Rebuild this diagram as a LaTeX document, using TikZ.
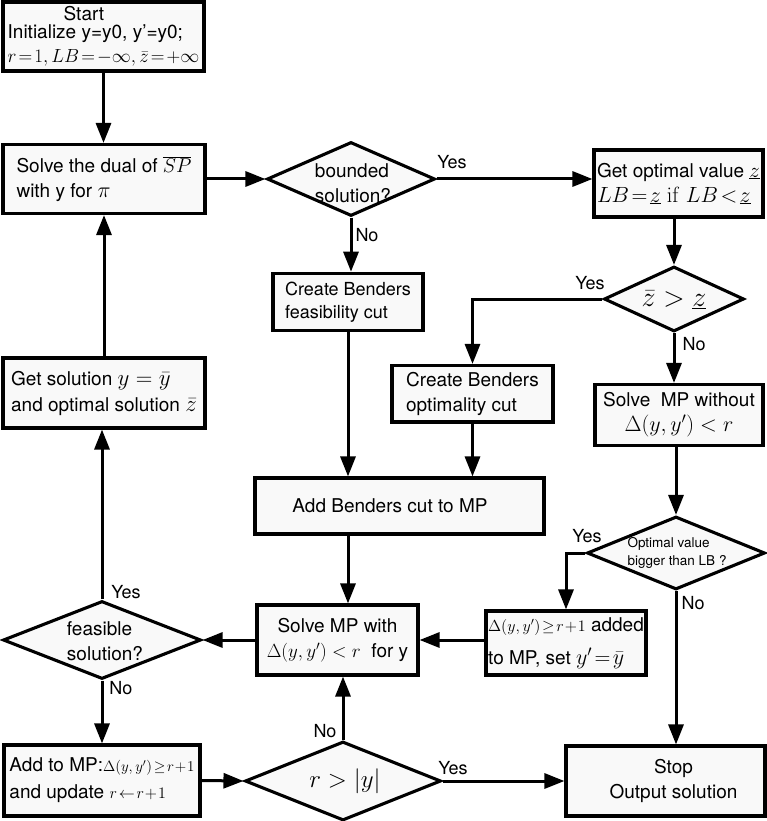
\RequirePackage{fix-cm}
\documentclass[tikz,border=0pt]{standalone}
\usepackage[no-math]{fontspec}
\setmainfont{TeX Gyre Heros}
\usetikzlibrary{arrows.meta,shapes.geometric}
\newcommand{\MS}[2]{{\fontsize{#1}{#1}\selectfont$#2$}}
\definecolor{boxfill}{gray}{0.975}
\begin{document}
\begin{tikzpicture}[x=1pt,y=-1pt,
  box/.style={draw, line width=3.1pt, fill=boxfill, inner sep=0pt, align=left, font=\fontsize{19}{25}\selectfont},
  dia/.style={diamond, draw, line width=3.1pt, fill=boxfill, inner sep=0pt},
  arr/.style={line width=3pt, -{Triangle[length=20pt,width=15pt]}},
  lab/.style={font=\fontsize{18}{20}\selectfont, inner sep=0pt},
  dtext/.style={font=\fontsize{19}{25}\selectfont, align=left, inner sep=0pt}
]
\useasboundingbox[fill=white] (0,0) rectangle (767,821);

% boxes
\node[box, minimum width=201, minimum height=69] (start) at (103.5,36.5)
  {\hspace*{56pt}Start\\[-6.5pt]Initialize y=y0, y'=y0;\\[-1pt]\MS{19}{r\!=\!1, LB\!=\!-\infty, \bar z\!=\!+\infty}};
\node[box, minimum width=202, minimum height=69] (dual) at (104,179)
  {Solve the dual of \MS{20}{\overline{SP}}\\with y for \MS{22}{\pi}};
\node[box, minimum width=169, minimum height=67] (opt) at (678.5,183.5)
  {Get optimal value \MS{21}{\underline{z}}\\\MS{22}{LB\!=\!\underline{z}\ \mathrm{if}\ LB\!<\!\underline{z}}};
\node[box, minimum width=150, minimum height=57, font=\fontsize{18}{23}\selectfont] (feas) at (348,301.75)
  {Create Benders\\feasibility cut};
\node[box, minimum width=161, minimum height=56.5, font=\fontsize{19}{25.5}\selectfont] (ocut) at (472.5,393.75)
  {Create Benders\\optimality cut};
\node[box, minimum width=168, minimum height=61, align=center] (smw) at (679,415)
  {Solve\ \ MP without\\\MS{22}{\Delta(y,y')<r}};
\node[box, minimum width=202, minimum height=70] (gsol) at (104,393)
  {Get solution \MS{23}{y = \bar y}\\[1pt]and optimal solution \MS{23}{\bar z}};
\node[box, minimum width=289, minimum height=56] (addb) at (399.5,506)
  {Add Benders cut to MP\hspace*{19pt}};
\node[box, minimum width=161, minimum height=70, align=center] (smp) at (337.5,640)
  {Solve MP with\\\MS{19}{\Delta(y,y')<r}\ \ for y};
\node[box, minimum width=160, minimum height=64] (dlt) at (566,643)
  {\MS{16}{\Delta(y,y')\!\geq\! r\!+\!1} added\\[8pt]to MP, set \MS{22}{y'\!=\!\bar y}};
\node[box, minimum width=196, minimum height=71] (amp) at (102,780.5)
  {Add to MP:\MS{15}{\Delta(y,y')\!\geq\! r\!+\!1}\\[2pt]and update \MS{16}{r\!\leftarrow\! r\!+\!1}};
\node[box, minimum width=199, minimum height=70, align=center] (stop) at (665.5,781)
  {\hspace*{16pt}Stop\\\hspace*{16pt}Output solution};

% diamonds
\node[dia, minimum width=168, minimum height=74] (bnd) at (351,179) {};
\node[dtext] (bndt) at (353,183) {bounded\\solution?};
\node[dia, minimum width=140, minimum height=65] (zc) at (674,299) {};
\node[dtext] (zct) at (674,300) {\MS{28}{\bar z > \underline{z}}};
\node[dia, minimum width=178, minimum height=73] (ovd) at (676,553) {};
\node[dtext, font=\fontsize{13.5}{18.5}\selectfont] (ovdt) at (677,553) {Optimal value\\bigger than LB ?};
\node[dia, minimum width=198, minimum height=78] (fsd) at (102,640) {};
\node[dtext] (fsdt) at (105,641) {feasible\\solution?};
\node[dia, minimum width=196, minimum height=79] (rd) at (343,781) {};
\node[dtext] (rdt) at (345,781) {\MS{25}{r > |y|}};

% connectors
\draw[arr] (start.south) -- (start.south |- dual.north);
\draw[arr] (dual.east) -- (bnd.west);
\draw[arr] (bnd.east) -- (bnd.east -| opt.west);
\draw[arr] (bnd.south) -- (bnd.south |- feas.north);
\draw[arr] (zc.north |- opt.south) -- (zc.north);
\draw[arr] (zc.west) -| (ocut.north);
\draw[arr] (zc.south) -- (zc.south |- smw.north);
\draw[arr] (ovd.north |- smw.south) -- (ovd.north);
\draw[arr] (ovd.west) -| (dlt.north);
\draw[arr] (ovd.south) -- (ovd.south |- stop.north);
\draw[arr] (feas.south) -- (feas.south |- addb.north);
\draw[arr] (ocut.south) -- (ocut.south |- addb.north);
\draw[arr] (addb.south -| feas.south) -- (smp.north -| feas.south);
\draw[arr] (dlt.west |- smp.east) -- (smp.east);
\draw[arr] (smp.west) -- (fsd.east);
\draw[arr] (fsd.north) -- (fsd.north |- gsol.south);
\draw[arr] (gsol.north) -- (gsol.north |- dual.south);
\draw[arr] (fsd.south) -- (fsd.south |- amp.north);
\draw[arr] (amp.east) -- (rd.west);
\draw[arr] (rd.north) -- (rd.north |- smp.south);
\draw[arr] (rd.east) -- (stop.west);

% labels
\node[lab] (l1) at (452,162) {Yes};
\node[lab] (l2) at (367,235) {No};
\node[lab] (l3) at (590,283) {Yes};
\node[lab] (l4) at (694,344) {No};
\node[lab] (l5) at (587,536) {Yes};
\node[lab] (l6) at (693,603) {No};
\node[lab] (l7) at (126,592) {Yes};
\node[lab] (l8) at (121,688) {No};
\node[lab] (l9) at (325,731) {No};
\node[lab] (l10) at (453,768) {Yes};
\end{tikzpicture}
\end{document}
